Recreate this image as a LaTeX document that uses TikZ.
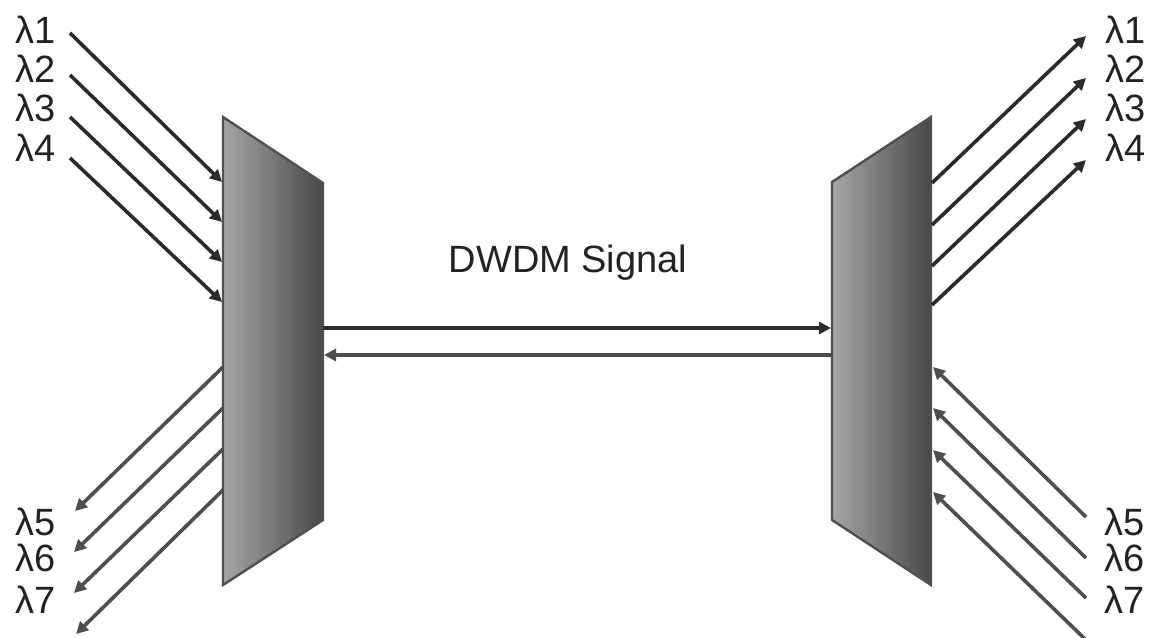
\documentclass[tikz,border=0pt]{standalone}
\usepackage{fontspec}
\setmainfont{Liberation Sans}
\usetikzlibrary{arrows.meta}
\definecolor{dark}{HTML}{2B2B2B}
\definecolor{mid}{HTML}{4E4E4E}
\definecolor{plight}{HTML}{A6A6A6}
\definecolor{pdark}{HTML}{484848}
\definecolor{pedge}{HTML}{505050}
\definecolor{txt}{HTML}{222222}
\begin{document}
\begin{tikzpicture}[x=1pt,y=-1pt,
  lbl/.style={inner sep=0pt, font=\fontsize{38}{38}\selectfont, text=txt},
  sigdark/.style={line width=3.6pt, draw=dark, -{Triangle[length=12pt,width=12pt]}},
  siggray/.style={line width=3.6pt, draw=mid, -{Triangle[length=12pt,width=12pt]}},
  prism/.style={draw=pedge, line width=2.4pt, left color=plight, right color=pdark}]
\useasboundingbox[fill=white] (0,0) rectangle (1150,637);

% prisms
\path[prism] (223,117) coordinate (LPtl) -- (323,183) coordinate (LPtr)
  -- (323,520) coordinate (LPbr) -- (223,585) coordinate (LPbl) -- cycle;
\path[prism] (832,182) coordinate (RPtl) -- (931,117) coordinate (RPtr)
  -- (931,585) coordinate (RPbr) -- (832,520) coordinate (RPbl) -- cycle;

% labels
\node[lbl] (L1) at (36,30) {λ1};
\node[lbl] (L2) at (36,69) {λ2};
\node[lbl] (L3) at (36,108) {λ3};
\node[lbl] (L4) at (36,148) {λ4};
\node[lbl] (L5) at (36,522) {λ5};
\node[lbl] (L6) at (36,558) {λ6};
\node[lbl] (L7) at (36,600) {λ7};
\node[lbl] (R1) at (1126,30) {λ1};
\node[lbl] (R2) at (1126,69) {λ2};
\node[lbl] (R3) at (1126,108) {λ3};
\node[lbl] (R4) at (1126,148) {λ4};
\node[lbl] (R5) at (1125,522) {λ5};
\node[lbl] (R6) at (1125,558) {λ6};
\node[lbl] (R7) at (1125,600) {λ7};
\node[lbl] (sig) at (568,263) {DWDM Signal};

% left inputs
\coordinate (a1) at (70,33);  \coordinate (b1) at (222,182);
\coordinate (a2) at (70,75);  \coordinate (b2) at (222,222);
\coordinate (a3) at (70,117); \coordinate (b3) at (222,262);
\coordinate (a4) at (70,158); \coordinate (b4) at (222,302);
\foreach \i in {1,...,4} \draw[sigdark] (a\i) -- (b\i);

% left outputs
\coordinate (c1) at (223,367); \coordinate (d1) at (75,511);
\coordinate (c2) at (223,408); \coordinate (d2) at (74,552);
\coordinate (c3) at (223,449); \coordinate (d3) at (74,593);
\coordinate (c4) at (223,490); \coordinate (d4) at (76,634);
\foreach \i in {1,...,4} \draw[siggray] (c\i) -- (d\i);

% right outputs
\coordinate (e1) at (932,183); \coordinate (f1) at (1086,36);
\coordinate (e2) at (932,225); \coordinate (f2) at (1086,78);
\coordinate (e3) at (932,266); \coordinate (f3) at (1086,119);
\coordinate (e4) at (932,305); \coordinate (f4) at (1086,160);
\foreach \i in {1,...,4} \draw[sigdark] (e\i) -- (f\i);

% right inputs
\coordinate (g1) at (1086,517); \coordinate (h1) at (933,367);
\coordinate (g2) at (1086,558); \coordinate (h2) at (933,408);
\coordinate (g3) at (1086,598); \coordinate (h3) at (933,450);
\coordinate (g4) at (1086,640); \coordinate (h4) at (933,492);
\foreach \i in {1,...,4} \draw[siggray] (g\i) -- (h\i);

% DWDM link
\coordinate (t1) at (323,328); \coordinate (t2) at (831,328);
\coordinate (u1) at (832,355); \coordinate (u2) at (324,355);
\draw[sigdark] (t1) -- (t2);
\draw[siggray] (u1) -- (u2);
\end{tikzpicture}
\end{document}
